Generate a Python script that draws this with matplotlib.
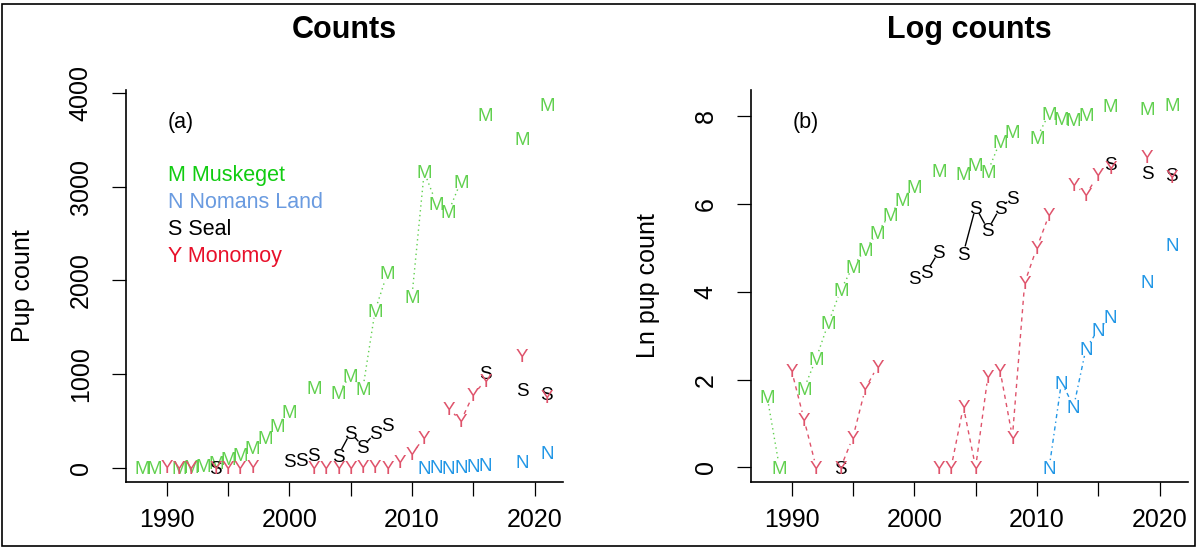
import numpy as np
import matplotlib
matplotlib.use("Agg")
import matplotlib.pyplot as plt
from matplotlib.patches import Rectangle
from matplotlib.transforms import offset_copy

plt.rcParams['font.family'] = ['Liberation Sans', 'DejaVu Sans']

nan = np.nan
years = list(range(1988, 2022))

# pup counts per colony, nan = no survey that year
muskeget = [5, 1, nan, 6, 12, 27, 57, 97, 143, 210, 317, 447, 600, nan, 855, nan,
            800, 985, 845, 1680, 2080, nan, 1830, 3160, 2820, 2740, 3060, nan,
            3770, nan, nan, 3520, nan, 3880]
nomans = [nan] * 23 + [1, 7, 4, 15, 23, 31, nan, nan, 69, nan, 160]
seal = [nan] * 6 + [1] + [nan] * 5 + [75, 86, 136, nan, 132, 375, 225, 370, 465] \
       + [nan] * 7 + [1020, nan, nan, 830, nan, 795]
monomoy = [nan, nan, 9, 3, 1, nan, 1, 2, 6, 10, nan, nan, nan, nan, 1, 1, 4, 1, 8, 9,
           2, 67, 150, 317, nan, 630, 500, 780, 930, nan, nan, 1200, nan, 757]

letters = ['M', 'N', 'S', 'Y']
names = ['Muskeget', 'Nomans Land', 'Seal', 'Monomoy']
point_cols = ['#61D04F', '#2297E6', 'black', '#DF536B']
legend_cols = ['#11CC11', '#6A9BE0', 'black', '#E8102A']
styles = [(0, (1, 2.5)), (0, (1, 2.5, 3, 2.5)), '-', (0, (3, 3))]
counts = [muskeget, nomans, seal, monomoy]

W, H = 1198, 548
fig = plt.figure(figsize=(W / 100, H / 100), dpi=100)


def px_axes(x0, x1, ytop, ybot):
    return fig.add_axes([x0 / W, (H - ybot) / H, (x1 - x0) / W, (ybot - ytop) / H])


def gapped_line(ax, x, y, color, ls, r=7.5):
    # like R type="b": segments stop short of the letters
    pts = ax.transData.transform(np.column_stack([x, y]))
    inv = ax.transData.inverted()
    for i in range(len(x) - 1):
        if np.isnan(y[i]) or np.isnan(y[i + 1]):
            continue
        p, q = pts[i], pts[i + 1]
        d = np.hypot(*(q - p))
        if d <= 2 * r:
            continue
        u = (q - p) / d
        a, b = inv.transform([p + u * r, q - u * r])
        ax.plot([a[0], b[0]], [a[1], b[1]], color=color, ls=ls, lw=1.0)


def panel(ax, data, yticks, title, tag, ylabel, legend=False):
    x = np.array(years, float)
    allv = np.concatenate(data)
    lo, hi = np.nanmin(allv), np.nanmax(allv)
    ax.set_xlim(x[0] - 0.04 * (x[-1] - x[0]), x[-1] + 0.04 * (x[-1] - x[0]))
    ax.set_ylim(lo - 0.04 * (hi - lo), hi + 0.04 * (hi - lo))

    # letters centred on the point by cap height
    tr = offset_copy(ax.transData, fig=fig, x=0, y=-6.5, units='dots')
    for y, let, col, ls in zip(data, letters, point_cols, styles):
        gapped_line(ax, x, y, col, ls)
        for xi, yi in zip(x, y):
            if not np.isnan(yi):
                ax.text(xi, yi, let, color=col, fontsize=13.5, ha='center',
                        va='baseline', transform=tr)

    for s in ['top', 'right']:
        ax.spines[s].set_visible(False)
    for s in ['left', 'bottom']:
        ax.spines[s].set_linewidth(1.2)
    ax.set_xticks(range(1990, 2021, 5))
    ax.set_xticklabels([str(t) if t % 10 == 0 else '' for t in range(1990, 2021, 5)])
    ax.set_yticks(yticks)
    ax.tick_params(direction='out', length=10, width=0.9, labelsize=18, pad=9)
    ax.tick_params(axis='y', labelrotation=90, pad=14)
    for lab in ax.get_yticklabels():
        lab.set_va('center')

    ax.text(0.5, 1.153, title, transform=ax.transAxes, ha='center', va='center',
            fontsize=22, fontweight='bold')
    ax.text(0.095, 0.918, tag, transform=ax.transAxes, ha='left', va='center', fontsize=15.5)
    ax.set_ylabel(ylabel, fontsize=18)
    ax.yaxis.set_label_coords(-0.208, 0.5)

    if legend:
        for k in range(4):
            ax.text(0.096, 0.783 - 0.069 * k, letters[k] + ' ' + names[k],
                    transform=ax.transAxes, ha='left', va='center',
                    fontsize=15.5, color=legend_cols[k])


# (a) raw counts
ax1 = px_axes(126, 563, 90, 482)
panel(ax1, [np.array(c, float) for c in counts], [0, 1000, 2000, 3000, 4000],
      'Counts', '(a)', 'Pup count', legend=True)

# (b) log counts
ax2 = px_axes(751, 1188, 90, 482)
panel(ax2, [np.log(np.array(c, float)) for c in counts], [0, 2, 4, 6, 8],
      'Log counts', '(b)', 'Ln pup count')

# outer frame
fig.add_artist(Rectangle((2 / W, 2 / H), 1193 / W, 542 / H, transform=fig.transFigure,
                         fill=False, lw=1.2, ec='black'))

fig.savefig('out.png', dpi=100)
